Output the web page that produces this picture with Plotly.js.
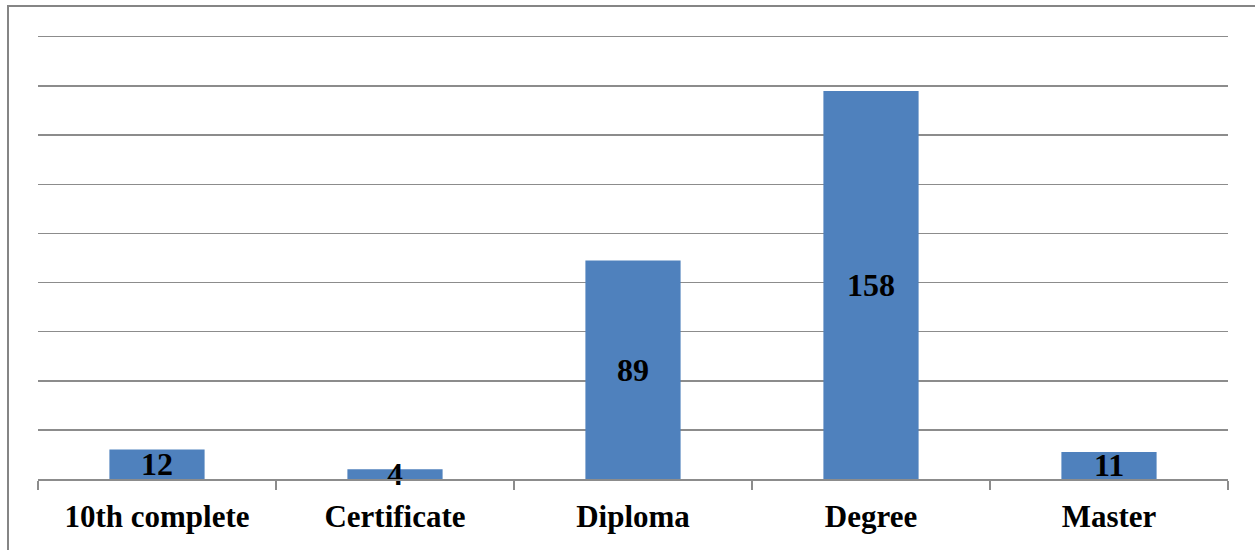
<!DOCTYPE html>
<html>
<head>
<meta charset="utf-8">
<script src="https://cdn.plot.ly/plotly-3.0.1.min.js"></script>
<style>
html,body{margin:0;padding:0;background:#fff;overflow:hidden;}
#wrap{position:relative;width:1255px;height:550px;}
#chart{width:1255px;height:550px;}
#frame{position:absolute;left:7px;top:5px;width:1300px;height:620px;border:2px solid #858585;pointer-events:none;}
</style>
</head>
<body>
<div id="wrap">
<div id="chart"></div>
<div id="frame"></div>
</div>
<script>
const categories = ["10th complete", "Certificate", "Diploma", "Degree", "Master"];
const counts = [12, 4, 89, 158, 11];

const FONT = '"Liberation Serif", "Times New Roman", serif';

const trace = {
  type: 'bar',
  x: categories,
  y: counts,
  marker: {color: '#4F81BD'},
  text: counts.map(String),
  textposition: 'inside',
  insidetextanchor: 'middle',
  constraintext: 'none',
  textangle: 0,
  insidetextfont: {family: FONT, size: 32, color: '#000000', weight: 'bold'},
  hoverinfo: 'none',
  cliponaxis: false
};

const layout = {
  width: 1255,
  height: 550,
  margin: {l: 38, r: 27, t: 37, b: 71, pad: 0},
  paper_bgcolor: '#ffffff',
  plot_bgcolor: '#ffffff',
  showlegend: false,
  bargap: 0.6,
  xaxis: {
    type: 'category',
    showline: true,
    mirror: true,
    linecolor: '#8c8c8c',
    linewidth: 1.5,
    ticks: 'outside',
    tickson: 'boundaries',
    ticklen: 9,
    tickwidth: 1.5,
    tickcolor: '#8c8c8c',
    showgrid: false,
    zeroline: false,
    tickfont: {family: FONT, size: 31, color: '#000000', weight: 'bold'},
    ticklabelstandoff: 9,
    fixedrange: true
  },
  yaxis: {
    range: [0, 180],
    dtick: 20,
    tick0: 0,
    showticklabels: false,
    ticks: '',
    showgrid: true,
    gridcolor: '#8c8c8c',
    gridwidth: 1.5,
    zeroline: false,
    showline: false,
    fixedrange: true
  }
};

Plotly.newPlot('chart', [trace], layout, {displayModeBar: false, staticPlot: true});
</script>
</body>
</html>
